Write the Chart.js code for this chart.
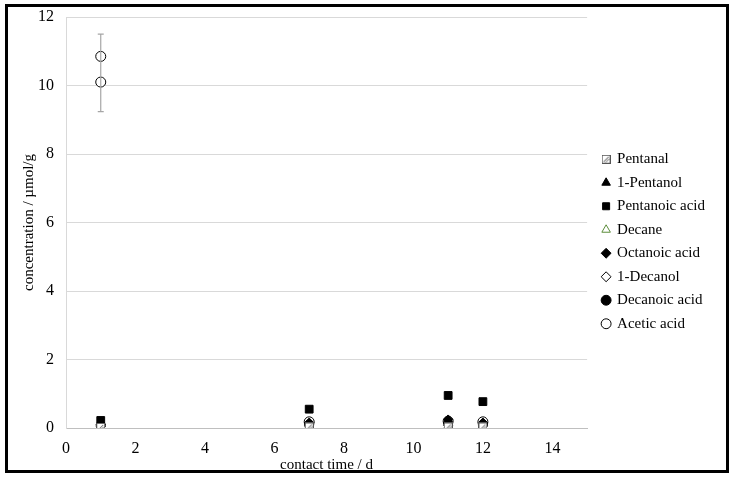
<!DOCTYPE html>
<html>
<head>
<meta charset="utf-8">
<script src="https://cdn.jsdelivr.net/npm/chart.js@4"></script>
<style>
  html, body { margin: 0; padding: 0; background: #fff; }
  #wrap { width: 734px; height: 479px; }
</style>
</head>
<body>
<div id="wrap"><canvas id="chart" width="734" height="479"></canvas></div>
<script>
/* ===== data ===== */
const days = [1, 7, 11, 12];

const pentanal      = [0.02, 0.03, 0.03, 0.03];
const pentanol      = [0.05, 0.06, 0.06, 0.05];
const pentanoicAcid = [0.22, 0.55, 0.95, 0.77];
const decane        = [0.0, 0.0, 0.0, 0.0];
const octanoicAcid  = [0.1, 0.16, 0.25, 0.16];
const decanol       = [0.05, 0.06, 0.08, 0.06];
const decanoicAcid  = [0.08, 0.1, 0.14, 0.1];

// acetic acid has two readings on day 1
const aceticDays   = [1, 1, 7, 11, 12];
const aceticAcid   = [10.1, 10.85, 0.18, 0.2, 0.18];
const aceticErrLow  = [9.24, null, null, null, null];
const aceticErrHigh = [11.5, null, null, null, null];

const xTicks = [0, 2, 4, 6, 8, 10, 12, 14];
const yTicks = [0, 2, 4, 6, 8, 10, 12];

const FONT = "'Liberation Serif', 'Times New Roman', serif";

function pts(xs, ys) {
  return xs.map((x, i) => ({ x: x, y: ys[i] }));
}

/* hatched square marker for Pentanal */
function hatchMarker() {
  const c = document.createElement("canvas");
  c.width = 9; c.height = 9;
  const g = c.getContext("2d");
  g.fillStyle = "#fff";
  g.fillRect(0, 0, 9, 9);
  g.strokeStyle = "#555";
  g.lineWidth = 1;
  g.strokeRect(0.5, 0.5, 8, 8);
  g.beginPath();
  g.moveTo(2, 7); g.lineTo(7, 2);
  g.moveTo(4, 7.5); g.lineTo(7.5, 4);
  g.stroke();
  return c;
}

/* ===== error bars, legend nudge, frame ===== */
const errorBars = {
  id: "errorBars",
  afterDatasetsDraw(chart) {
    const ctx = chart.ctx;
    const xs = chart.scales.x, ys = chart.scales.y;
    ctx.save();
    ctx.strokeStyle = "#a6a6a6";
    ctx.lineWidth = 1.2;
    aceticDays.forEach((d, i) => {
      if (aceticErrLow[i] == null) return;
      const px = xs.getPixelForValue(d);
      const top = ys.getPixelForValue(aceticErrHigh[i]);
      const bot = ys.getPixelForValue(aceticErrLow[i]);
      ctx.beginPath();
      ctx.moveTo(px, top); ctx.lineTo(px, bot);
      ctx.moveTo(px - 3, top); ctx.lineTo(px + 3, top);
      ctx.moveTo(px - 3, bot); ctx.lineTo(px + 3, bot);
      ctx.stroke();
    });
    ctx.restore();
  }
};

// push the legend a little right / up, like the original
const legendNudge = {
  id: "legendNudge",
  afterLayout(chart) {
    const lg = chart.legend;
    if (!lg) return;
    lg.left += 7; lg.right += 7;
    lg.top -= 6; lg.bottom -= 6;
  }
};

const frame = {
  id: "frame",
  afterDraw(chart) {
    const ctx = chart.ctx;
    ctx.save();
    ctx.strokeStyle = "#000";
    ctx.lineWidth = 3;
    ctx.strokeRect(6.5, 5.5, 721, 466);
    ctx.restore();
  }
};

const ctx = document.getElementById("chart").getContext("2d");

new Chart(ctx, {
  type: "scatter",
  data: {
    datasets: [
      { label: "Pentanal", data: pts(days, pentanal), pointStyle: hatchMarker(),
        backgroundColor: "#fff", borderColor: "#555" },
      { label: "1-Pentanol", data: pts(days, pentanol), pointStyle: "triangle",
        pointRadius: 5, backgroundColor: "#000", borderColor: "#000" },
      { label: "Pentanoic acid", data: pts(days, pentanoicAcid), pointStyle: "rect",
        pointRadius: 5.5, backgroundColor: "#000", borderColor: "#000" },
      { label: "Decane", data: pts(days, decane), pointStyle: "triangle",
        pointRadius: 4.5, backgroundColor: "#fff", borderColor: "#5b8c3a" },
      { label: "Octanoic acid", data: pts(days, octanoicAcid), pointStyle: "rectRot",
        pointRadius: 4.5, backgroundColor: "#000", borderColor: "#000" },
      { label: "1-Decanol", data: pts(days, decanol), pointStyle: "rectRot",
        pointRadius: 4.5, backgroundColor: "#fff", borderColor: "#000" },
      { label: "Decanoic acid", data: pts(days, decanoicAcid), pointStyle: "circle",
        pointRadius: 4.5, backgroundColor: "#000", borderColor: "#000" },
      { label: "Acetic acid", data: pts(aceticDays, aceticAcid), pointStyle: "circle",
        pointRadius: 5, backgroundColor: "#fff", borderColor: "#000" }
    ]
  },
  options: {
    responsive: false,
    animation: false,
    layout: { padding: { top: 17, right: 26, bottom: 1, left: 20 } },
    elements: { point: { borderWidth: 1 } },
    plugins: {
      tooltip: { enabled: false },
      legend: {
        position: "right",
        labels: {
          usePointStyle: true,
          boxWidth: 7,
          boxHeight: 7,
          padding: 8.5,
          color: "#000",
          font: { family: FONT, size: 15 }
        }
      }
    },
    scales: {
      x: {
        type: "linear",
        min: 0,
        max: 15,
        afterBuildTicks: s => { s.ticks = xTicks.map(v => ({ value: v })); },
        afterFit: s => { s.height = 50; s.paddingLeft = 0; s.paddingRight = 0; },
        grid: { display: false, drawTicks: false },
        border: { display: true, color: "#bfbfbf" },
        ticks: { color: "#000", padding: 11, font: { family: FONT, size: 16 } },
        title: { display: true, text: "contact time / d", color: "#000",
                 padding: { top: 0, bottom: 4 }, font: { family: FONT, size: 15 } }
      },
      y: {
        min: 0,
        max: 12,
        afterBuildTicks: s => { s.ticks = yTicks.map(v => ({ value: v })); },
        afterFit: s => { s.width = 46; s.paddingTop = 0; s.paddingBottom = 0; },
        grid: { color: "#d9d9d9", drawTicks: false },
        border: { display: true, color: "#d9d9d9" },
        ticks: { color: "#000", padding: 12, font: { family: FONT, size: 16 } },
        title: { display: true, text: "concentration / µmol/g", color: "#000",
                 padding: { top: 0, bottom: 0 }, font: { family: FONT, size: 15 } }
      }
    }
  },
  plugins: [errorBars, legendNudge, frame]
});
</script>
</body>
</html>
